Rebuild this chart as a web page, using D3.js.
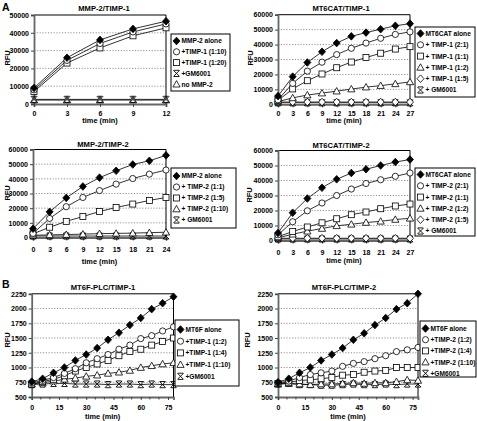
<!DOCTYPE html>
<html><head><meta charset="utf-8">
<script src="https://cdn.jsdelivr.net/npm/d3@7"></script>
<style>
body{margin:0;background:#fff}
text{font-family:"Liberation Sans",Arial,sans-serif;font-weight:bold;fill:#000}
</style>
</head><body><svg id="c" width="477" height="421"></svg>
<script>
// ---------- DATA ----------
// Panel A1: MMP-2/TIMP-1
const p1Times=[0,3,6,9,12];
const p1Alone=[9000,26000,36000,42200,46500];
const p1T110=[8000,24500,34000,40500,45000];
const p1T120=[7000,23000,31500,38300,42800];
const p1GM=[2600,2600,2600,2600,2600];
const p1NoMMP=[2200,2200,2200,2200,2200];
const p1Labels=["MMP-2 alone","+TIMP-1 (1:10)","+TIMP-1 (1:20)","+GM6001","no MMP-2"];
const p1YTicks=[0,10000,20000,30000,40000,50000];
const p1XTicks=[0,3,6,9,12];

// Panel A2: MT6CAT/TIMP-1
const p2Times=[0,3,6,9,12,15,18,21,24,27];
const p2Alone=[5500,18500,28000,35200,41000,45500,48000,50300,52600,54000];
const p2T21=[3000,14000,22200,28200,33300,37500,41000,44200,46800,48500];
const p2T11=[2500,10300,15800,20300,24500,28300,31300,34200,37000,38600];
const p2T12=[1800,4300,6200,7500,8800,10200,11500,12500,13700,15000];
const p2T15=[1500,1500,1500,1500,1500,1500,1500,1500,1500,1500];
const p2GM=[1000,1000,1000,1000,1000,1000,1000,1000,1000,1000];
const p2Labels=["MT6CAT alone","+ TIMP-1 (2:1)","+ TIMP-1 (1:1)","+ TIMP-1 (1:2)","+ TIMP-1 (1:5)","+ GM6001"];
const p2YTicks=[0,10000,20000,30000,40000,50000,60000];
const p2XTicks=[0,3,6,9,12,15,18,21,24,27];

// Panel A3: MMP-2/TIMP-2
const p3Times=[0,3,6,9,12,15,18,21,24];
const p3Alone=[6000,17500,27000,34800,40800,45500,49800,52300,56000];
const p3T11=[2800,13000,21000,27300,32000,36400,40200,43200,46000];
const p3T15=[2500,7000,11000,14300,17700,20500,22800,25300,27300];
const p3T110=[1500,1800,2000,2300,2600,2800,3000,3300,3600];
const p3GM=[1000,1000,1000,1000,1000,1000,1000,1000,1000];
const p3Labels=["MMP-2 alone","+ TIMP-2 (1:1)","+ TIMP-2 (1:5)","+ TIMP-2 (1:10)","+ GM6001"];
const p3YTicks=[0,10000,20000,30000,40000,50000,60000];
const p3XTicks=[0,3,6,9,12,15,18,21,24];

// Panel A4: MT6CAT/TIMP-2
const p4Times=[0,3,6,9,12,15,18,21,24,27];
const p4Alone=[5000,18500,28000,35200,40800,45000,47500,50000,52300,54000];
const p4T21=[3800,12500,19800,25000,30000,34300,38000,40500,42800,45000];
const p4T11=[2500,6000,9000,11800,14500,17200,19000,21200,23000,24300];
const p4T12=[1800,4200,6200,8000,9800,10800,12000,12800,14000,14800];
const p4T15=[1500,1500,1500,1500,1500,1500,1500,1500,1500,1500];
const p4GM=[1000,1000,1000,1000,1000,1000,1000,1000,1000,1000];
const p4Labels=["MT6CAT alone","+ TIMP-2 (2:1)","+ TIMP-2 (1:1)","+ TIMP-2 (1:2)","+ TIMP-2 (1:5)","+ GM6001"];
const p4YTicks=[0,10000,20000,30000,40000,50000,60000];
const p4XTicks=[0,3,6,9,12,15,18,21,24,27];

// Panel B1: MT6F-PLC/TIMP-1
const p5Times=[0,6,12,18,24,30,36,42,48,54,60,66,72,78];
const p5Alone=[760,810,910,1000,1120,1220,1330,1470,1590,1720,1840,1990,2090,2200];
const p5T12=[740,780,830,900,980,1080,1150,1220,1310,1380,1490,1540,1620,1690];
const p5T14=[720,760,800,860,940,1000,1060,1120,1200,1270,1310,1380,1440,1500];
const p5T110=[720,740,770,800,820,850,870,900,920,950,1000,1030,1060,1080];
const p5GM=[710,720,730,730,720,720,720,710,720,720,710,720,710,710];
const p5Labels=["MT6F alone","+TIMP-1 (1:2)","+TIMP-1 (1:4)","+TIMP-1 (1:10)","+GM6001"];
const p5YTicks=[500,750,1000,1250,1500,1750,2000,2250];
const p5XTicks=[0,15,30,45,60,75];

// Panel B2: MT6F-PLC/TIMP-2
const p6Times=[0,6,12,18,24,30,36,42,48,54,60,66,72,78];
const p6Alone=[750,810,910,1000,1120,1220,1330,1470,1580,1720,1840,1990,2090,2250];
const p6T12=[740,770,830,880,910,940,1020,1070,1100,1150,1200,1270,1300,1340];
const p6T14=[730,750,780,790,810,830,870,880,920,940,950,1000,1000,1000];
const p6T110=[720,730,720,710,720,720,730,740,730,740,740,760,790,780];
const p6GM=[720,730,710,710,700,700,710,720,710,710,720,710,720,720];
const p6Labels=["MT6F alone","+TIMP-2 (1:2)","+TIMP-2 (1:4)","+TIMP-2 (1:10)","+GM6001"];
const p6YTicks=[500,750,1000,1250,1500,1750,2000,2250];
const p6XTicks=[0,15,30,45,60,75];

// ---------- LAYOUT ----------
const panels=[
 {title:"MMP-2/TIMP-1",times:p1Times,series:[p1Alone,p1T110,p1T120,p1GM,p1NoMMP],syms:["dfill","circle","square","gm","tri"],labels:p1Labels,
  yTicks:p1YTicks,xTicks:p1XTicks,minorStep:null,tMax:12,
  px:[34,166],py:[104,15],titleXY:[104,11],rfu:[7,58],tickY:116,labY:123,
  leg:{x:171,y:34,w:59,h:57,y0:41,dy:10.8}},
 {title:"MT6CAT/TIMP-1",times:p2Times,series:[p2Alone,p2T21,p2T11,p2T12,p2T15,p2GM],syms:["dfill","circle","square","tri","dopen","gm"],labels:p2Labels,
  yTicks:p2YTicks,xTicks:p2XTicks,minorStep:null,tMax:27,
  px:[278,410],py:[104.3,14.7],titleXY:[341,11],rfu:[250,58],tickY:116,labY:123,
  leg:{x:415,y:27,w:60,h:70,y0:33.5,dy:11.3}},
 {title:"MMP-2/TIMP-2",times:p3Times,series:[p3Alone,p3T11,p3T15,p3T110,p3GM],syms:["dfill","circle","square","tri","gm"],labels:p3Labels,
  yTicks:p3YTicks,xTicks:p3XTicks,minorStep:null,tMax:24,
  px:[33,166],py:[237.5,149.5],titleXY:[103,147],rfu:[7,193],tickY:251.5,labY:263.5,
  leg:{x:171,y:168,w:65,h:60,y0:176,dy:11}},
 {title:"MT6CAT/TIMP-2",times:p4Times,series:[p4Alone,p4T21,p4T11,p4T12,p4T15,p4GM],syms:["dfill","circle","square","tri","dopen","gm"],labels:p4Labels,
  yTicks:p4YTicks,xTicks:p4XTicks,minorStep:null,tMax:27,
  px:[278,410],py:[240.5,150.5],titleXY:[341,148],rfu:[249,195],tickY:254.5,labY:262.5,
  leg:{x:415,y:168,w:60,h:68,y0:174.5,dy:11.3}},
 {title:"MT6F-PLC/TIMP-1",times:p5Times,series:[p5Alone,p5T12,p5T14,p5T110,p5GM],syms:["dfill","circle","square","tri","gm"],labels:p5Labels,
  yTicks:p5YTicks,xTicks:p5XTicks,minorStep:5,tMax:78,
  px:[31.7,173.5],py:[397,293.8],titleXY:[103,289.5],rfu:[7,340],tickY:410,labY:419,
  leg:{x:175,y:320,w:64,h:66,y0:329.5,dy:11.7}},
 {title:"MT6F-PLC/TIMP-2",times:p6Times,series:[p6Alone,p6T12,p6T14,p6T110,p6GM],syms:["dfill","circle","square","tri","gm"],labels:p6Labels,
  yTicks:p6YTicks,xTicks:p6XTicks,minorStep:5,tMax:78,
  px:[278,418],py:[397,293.8],titleXY:[344,289.5],rfu:[247,340],tickY:410,labY:419,
  leg:{x:420,y:321,w:56,h:56,y0:328.5,dy:11.2}}
];

const svg=d3.select("#c");

function drawSym(g,type,x,y){
  const s=3.1;
  if(type==="dfill"||type==="dopen"){
    g.append("path").attr("d",`M${x},${y-3.8}L${x+3.5},${y}L${x},${y+3.8}L${x-3.5},${y}Z`)
     .attr("fill",type==="dfill"?"#000":"#fff").attr("stroke","#000").attr("stroke-width",0.8);
  } else if(type==="circle"){
    g.append("circle").attr("cx",x).attr("cy",y).attr("r",3.1).attr("fill","#fff").attr("stroke","#000").attr("stroke-width",0.8);
  } else if(type==="square"){
    g.append("rect").attr("x",x-3).attr("y",y-3).attr("width",6).attr("height",6).attr("fill","#fff").attr("stroke","#000").attr("stroke-width",0.8);
  } else if(type==="tri"){
    g.append("path").attr("d",`M${x},${y-3.6}L${x+3.6},${y+2.8}L${x-3.6},${y+2.8}Z`).attr("fill","#fff").attr("stroke","#000").attr("stroke-width",0.8);
  } else if(type==="gm"){
    g.append("path").attr("d",`M${x-s},${y-s}L${x+s},${y+s}M${x+s},${y-s}L${x-s},${y+s}M${x-s+0.5},${y-s}L${x+s-0.5},${y-s}M${x-s+0.5},${y+s}L${x+s-0.5},${y+s}`)
     .attr("fill","none").attr("stroke","#000").attr("stroke-width",0.9);
  }
}

panels.forEach(p=>{
  const g=svg.append("g");
  const x=d3.scaleLinear().domain([0,p.tMax]).range(p.px);
  const y=d3.scaleLinear().domain([p.yTicks[0],p.yTicks[p.yTicks.length-1]]).range(p.py);
  const [x0,x1]=p.px,[yb,yt]=p.py;
  g.selectAll(".grid").data(p.yTicks.slice(1,-1)).enter().append("line")
   .attr("x1",x0).attr("x2",x1).attr("y1",d=>y(d)).attr("y2",d=>y(d))
   .attr("stroke","#777").attr("stroke-width",0.8).attr("stroke-dasharray","1.2,1.6");
  g.append("path").attr("d",`M${x0},${yt}H${x1}V${yb}`).attr("fill","none").attr("stroke","#000").attr("stroke-width",1);
  const ya=d3.axisLeft(y).tickValues(p.yTicks).tickSize(3).tickPadding(2).tickFormat(d3.format("d"));
  const yg=g.append("g").attr("transform",`translate(${x0},0)`).call(ya);
  yg.select(".domain").attr("stroke","#666").attr("stroke-width",1.8);
  yg.selectAll(".tick line").attr("stroke","#444").attr("stroke-width",1);
  yg.selectAll("text").style("font-size","7px").style("font-family","'Liberation Sans',Arial,sans-serif").style("font-weight","bold");
  const xa=d3.axisBottom(x).tickValues(p.xTicks).tickSize(3).tickPadding(0).tickFormat(d3.format("d"));
  const xg=g.append("g").attr("transform",`translate(0,${yb})`).call(xa);
  xg.select(".domain").attr("stroke","#666").attr("stroke-width",1.8);
  xg.selectAll(".tick line").attr("stroke","#444").attr("stroke-width",1);
  xg.selectAll("text").attr("y",p.tickY-yb).attr("dy",0).style("font-size","7px").style("font-family","'Liberation Sans',Arial,sans-serif").style("font-weight","bold");
  if(p.minorStep){
    const minors=d3.range(0,p.tMax+0.01,p.minorStep).filter(v=>!p.xTicks.includes(v));
    g.selectAll(".minor").data(minors).enter().append("line")
     .attr("x1",d=>x(d)).attr("x2",d=>x(d)).attr("y1",yb).attr("y2",yb+2.5).attr("stroke","#444").attr("stroke-width",1);
  }
  g.append("text").attr("x",p.titleXY[0]).attr("y",p.titleXY[1]).attr("text-anchor","middle").style("font-size","7.6px").text(p.title);
  g.append("text").attr("x",(x0+x1)/2).attr("y",p.labY).attr("text-anchor","middle").style("font-size","7.4px").text("time (min)");
  g.append("text").attr("transform",`translate(${p.rfu[0]+2.5},${p.rfu[1]}) rotate(-90)`).attr("text-anchor","middle").style("font-size","7.4px").text("RFU");
  const line=d3.line().x((d,i)=>x(p.times[i])).y(d=>y(d));
  p.series.slice().reverse().forEach(s=>{
    g.append("path").attr("d",line(s)).attr("fill","none").attr("stroke","#000").attr("stroke-width",0.8);
  });
  p.series.slice().reverse().forEach((s,ri)=>{
    const k=p.series.length-1-ri;
    s.forEach((v,i)=>drawSym(g,p.syms[k],x(p.times[i]),y(v)));
  });
  const L=p.leg;
  g.append("rect").attr("x",L.x).attr("y",L.y).attr("width",L.w).attr("height",L.h).attr("fill","#fff").attr("stroke","#000").attr("stroke-width",1);
  p.labels.forEach((lab,i)=>{
    const yy=L.y0+i*L.dy;
    drawSym(g,p.syms[i],L.x+5.5,yy);
    g.append("text").attr("x",L.x+10.5).attr("y",yy+2.4).style("font-size","6.6px").text(lab);
  });
});

svg.append("text").attr("x",2).attr("y",11).style("font-size","10.5px").text("A");
svg.append("text").attr("x",2).attr("y",288).style("font-size","10.5px").text("B");
</script>
</body></html>
